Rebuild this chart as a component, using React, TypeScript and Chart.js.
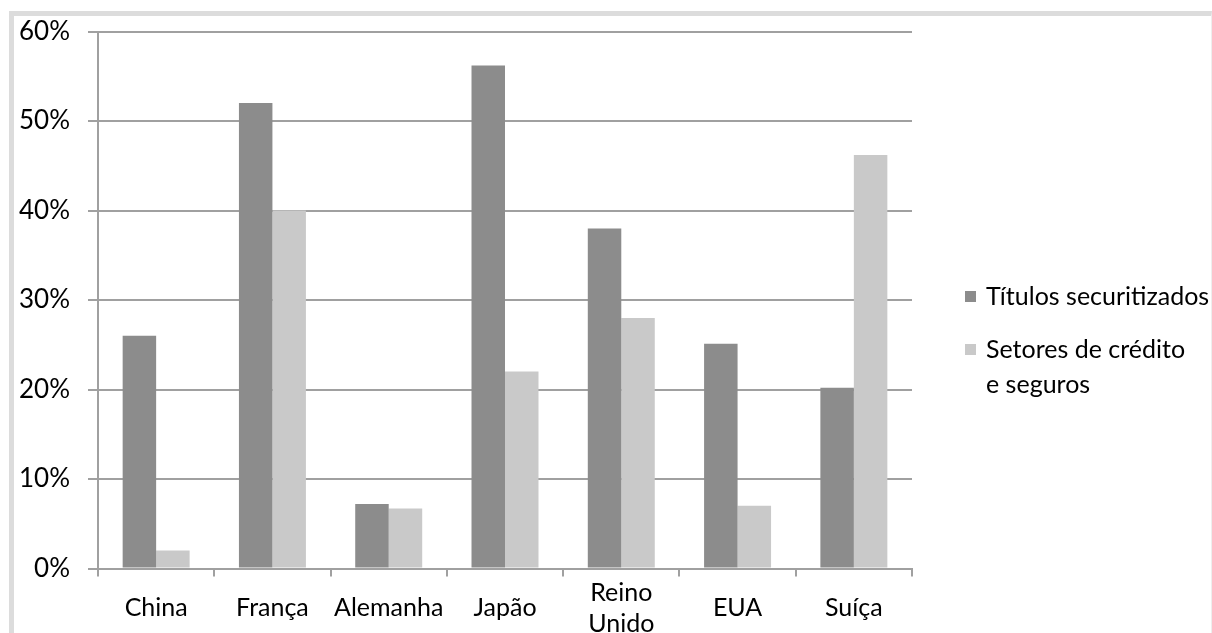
import React, { useEffect, useRef } from "react";
import { Chart, registerables } from "chart.js";

Chart.register(...registerables);

// Países (rótulos do eixo X; "Reino Unido" em duas linhas)
const categories: (string | string[])[] = [
  "China",
  "França",
  "Alemanha",
  "Japão",
  ["Reino", "Unido"],
  "EUA",
  "Suíça",
];

// Séries em %
const titulosSecuritizados = [26, 52, 7.2, 56.2, 38, 25.1, 20.2];
const setoresCreditoSeguros = [2, 40, 6.7, 22, 28, 7, 46.2];

const seriesNames: string[][] = [
  ["Títulos securitizados"],
  ["Setores de crédito", "e seguros"],
];

const yTicks = [0, 10, 20, 30, 40, 50, 60];

const DARK = "#8c8c8c";
const LIGHT = "#c9c9c9";
const GRID = "#a0a0a0";
const TEXT = "#000";
const FONT = "Lato, 'Open Sans', sans-serif";

// Legenda desenhada à direita da área do gráfico
const sideLegend = {
  id: "sideLegend",
  afterDraw(chart: any) {
    const ctx = chart.ctx as CanvasRenderingContext2D;
    const colors = [DARK, LIGHT];
    const rows = [297, 350];
    const lineH = 35;
    ctx.save();
    ctx.font = `25px ${FONT}`;
    ctx.textBaseline = "middle";
    seriesNames.forEach((lines, i) => {
      const y = rows[i];
      ctx.fillStyle = colors[i];
      ctx.fillRect(965, y - 6, 11, 11);
      ctx.fillStyle = TEXT;
      lines.forEach((t, j) => {
        ctx.fillText(t, 986, y + j * lineH);
      });
    });
    ctx.restore();
  },
};

export default function App() {
  const canvasRef = useRef<HTMLCanvasElement | null>(null);

  useEffect(() => {
    if (!canvasRef.current) return;
    const chart = new Chart(canvasRef.current, {
      type: "bar",
      data: {
        labels: categories as any,
        datasets: [
          {
            label: seriesNames[0].join(" "),
            data: titulosSecuritizados,
            backgroundColor: DARK,
            borderWidth: 0,
          },
          {
            label: seriesNames[1].join(" "),
            data: setoresCreditoSeguros,
            backgroundColor: LIGHT,
            borderWidth: 0,
          },
        ],
      },
      options: {
        responsive: false,
        animation: false,
        devicePixelRatio: 1,
        layout: { padding: { top: 31.5, right: 300, left: 0, bottom: 0 } },
        datasets: {
          bar: { categoryPercentage: 0.576, barPercentage: 1 },
        },
        plugins: {
          legend: { display: false },
          tooltip: { enabled: false },
        },
        scales: {
          x: {
            offset: true,
            grid: {
              offset: true,
              drawOnChartArea: false,
              drawTicks: true,
              tickLength: 8,
              color: GRID,
              lineWidth: 2,
            },
            border: { color: GRID, width: 2 },
            ticks: {
              color: TEXT,
              font: { family: FONT, size: 25, lineHeight: 1.26 },
              padding: 16,
              crossAlign: "center",
              maxRotation: 0,
              autoSkip: false,
            },
            afterFit(scale: any) {
              scale.height = 64.5;
              scale.paddingLeft = 0;
              scale.paddingRight = 0;
            },
          },
          y: {
            min: 0,
            max: 60,
            afterBuildTicks(scale: any) {
              scale.ticks = yTicks.map((v) => ({ value: v }));
            },
            grid: {
              color: GRID,
              lineWidth: 2,
              drawTicks: true,
              tickLength: 10,
            },
            border: { color: GRID, width: 2 },
            ticks: {
              color: TEXT,
              font: { family: FONT, size: 26 },
              padding: 18,
              callback: (v: any) => `${v}%`,
            },
            afterFit(scale: any) {
              scale.width = 98;
              scale.paddingTop = 0;
              scale.paddingBottom = 0;
            },
          },
        },
      },
      plugins: [sideLegend],
    });
    return () => chart.destroy();
  }, []);

  return (
    <div
      style={{
        position: "fixed",
        left: 0,
        top: 0,
        width: 1212,
        height: 633,
        background: "#fff",
        overflow: "hidden",
      }}
    >
      <div
        style={{
          position: "absolute",
          left: 9,
          top: 11,
          right: 0,
          bottom: -10,
          borderTop: "5px solid #dcdcdc",
          borderLeft: "5px solid #dcdcdc",
          borderRight: "1px solid #eeeeee",
        }}
      />
      <canvas
        ref={canvasRef}
        width={1212}
        height={633}
        style={{ position: "absolute", left: 0, top: 0, width: 1212, height: 633 }}
      />
    </div>
  );
}
